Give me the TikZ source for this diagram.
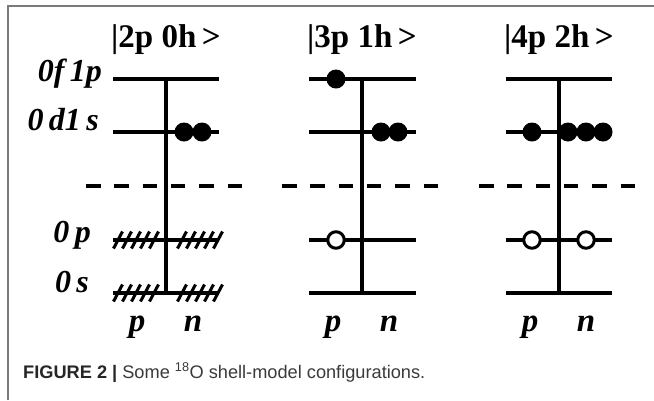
\documentclass[tikz,border=0pt]{standalone}
\usepackage{fontspec}
\setmainfont{Liberation Serif}
\newfontfamily\capfont{Liberation Sans}
\definecolor{framegray}{HTML}{7A7A7A}
\definecolor{captext}{HTML}{3A3A3A}
\begin{document}
\begin{tikzpicture}[x=1pt,y=-1pt,
  level/.style={line width=4pt},
  axis/.style={line width=4pt},
  divider/.style={line width=4pt, dash pattern=on 14.5pt off 13.8pt},
  hatch/.style={line width=3pt},
  pdot/.style={circle, fill=black, inner sep=0pt, minimum size=19pt},
  hole/.style={circle, draw=black, fill=white, line width=3pt, inner sep=0pt, minimum size=16.5pt},
  title/.style={anchor=base west, inner sep=0pt, font=\fontsize{33}{33}\selectfont\bfseries},
  lab/.style={anchor=base east, inner sep=0pt, font=\fontsize{32}{32}\selectfont\bfseries\itshape},
  pn/.style={anchor=base, inner sep=0pt, font=\fontsize{33}{33}\selectfont\bfseries\itshape}
]
\useasboundingbox (0,0) rectangle (654,400);
% frame
\coordinate (fbl) at (8,400);
\coordinate (ftl) at (8,6);
\coordinate (ftr) at (654,6);
\draw[framegray, line width=1.6pt] (fbl) -- (ftl) -- (ftr);

% three diagrams: left end, centre, right end
\foreach \d/\l/\c/\r in {1/113/166/219, 2/309/362/416, 3/506/559/612}{
  \coordinate (f\d l) at (\l,79);  \coordinate (f\d r) at (\r,79);
  \coordinate (d\d l) at (\l,132); \coordinate (d\d r) at (\r,132);
  \coordinate (p\d l) at (\l,240); \coordinate (p\d r) at (\r,240);
  \coordinate (s\d l) at (\l,293); \coordinate (s\d r) at (\r,293);
  \coordinate (top\d) at (\c,79);  \coordinate (bot\d) at (\c,293);
  \coordinate (dl\d) at (\c-80,186); \coordinate (dr\d) at (\c+76,186);
  \draw[level] (f\d l) -- (f\d r);
  \draw[level] (d\d l) -- (d\d r);
  \draw[level] (p\d l) -- (p\d r);
  \draw[level] (s\d l) -- (s\d r);
  \draw[axis] (top\d) -- (bot\d);
  \draw[divider] (dl\d) -- (dr\d);
  \node[pn] (pl\d) at (\c-29,331) {p};
  \node[pn] (nl\d) at (\c+27,331) {n};
}

% titles
\node[title] (t1) at (111,47) {|2p 0h\,>};
\node[title] (t2) at (307,47) {|3p 1h\,>};
\node[title] (t3) at (504,47) {|4p 2h\,>};

% shell labels
\node[lab] (l1) at (102,81) {0f\,1p};
\node[lab] (l2) at (99,130) {0\,d1\,s};
\node[lab] (l3) at (91,242) {0\,p};
\node[lab] (l4) at (89,292) {0\,s};

% hatching (diagram 1, closed shells)
\foreach \y in {240,293}{
  \foreach \x in {118,127,136,145,154,182,191,200,209,218}{
    \draw[hatch] (\x-4.5,\y+8.5) -- (\x+4.5,\y-8.5);
  }
}

% particles
\node[pdot] (a1) at (184,132) {};
\node[pdot] (a2) at (202,132) {};
\node[pdot] (b1) at (336,79) {};
\node[pdot] (b2) at (381,132) {};
\node[pdot] (b3) at (398,132) {};
\node[pdot] (c1) at (532,132) {};
\node[pdot] (c2) at (568,132) {};
\node[pdot] (c3) at (586,132) {};
\node[pdot] (c4) at (603,132) {};
% holes
\node[hole] (h1) at (336,240) {};
\node[hole] (h2) at (532,240) {};
\node[hole] (h3) at (586,240) {};

% caption
\node[anchor=base west, inner sep=0pt, text=captext, font=\capfont\fontsize{18.2}{18.2}\selectfont] (cap) at (23,378)
  {\textbf{\color{black!85}FIGURE 2 |} Some \textsuperscript{18}O shell-model configurations.};
\end{tikzpicture}
\end{document}
